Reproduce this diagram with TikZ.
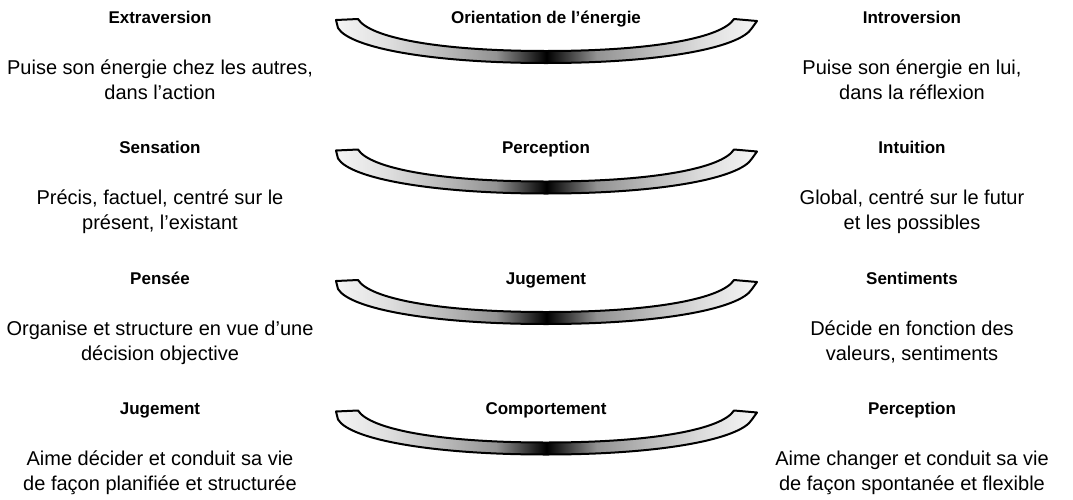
\documentclass[tikz,border=0pt]{standalone}
\usepackage{fontspec}
\setmainfont{Liberation Sans}
\pgfdeclarehorizontalshading{bandshade}{100bp}{color(0bp)=(gray!8); color(25bp)=(gray!8); color(31bp)=(gray!25); color(38bp)=(gray!55); color(44bp)=(gray!85); color(50bp)=(black); color(56bp)=(gray!85); color(62bp)=(gray!55); color(69bp)=(gray!25); color(75bp)=(gray!8); color(100bp)=(gray!8)}
\tikzset{
  title/.style={font=\fontsize{8.5}{10}\selectfont\bfseries, anchor=base},
  body/.style={font=\fontsize{10}{12.5}\selectfont, align=center, anchor=base},
  band/.style={draw=black, line width=1pt, line join=round, shading=bandshade}
}
\begin{document}
\begin{tikzpicture}[x=0.5pt, y=-0.5pt]
  \useasboundingbox (0,0) rectangle (1073,499);
  \foreach \i/\lt/\lb/\ct/\rt/\rb in {
      0/Extraversion/{Puise son énergie chez les autres,\\dans l’action}/{Orientation de l’énergie}/Introversion/{Puise son énergie en lui,\\dans la réflexion},
      1/Sensation/{Précis, factuel, centré sur le\\présent, l’existant}/Perception/Intuition/{Global, centré sur le futur\\et les possibles},
      2/Pensée/{Organise et structure en vue d’une\\décision objective}/Jugement/Sentiments/{Décide en fonction des\\valeurs, sentiments},
      3/Jugement/{Aime décider et conduit sa vie\\de façon planifiée et structurée}/Comportement/Perception/{Aime changer et conduit sa vie\\de façon spontanée et flexible}}{
    \begin{scope}[shift={(0,\i*130.5)}]
      \node[title] (lt\i) at (160,23) {\lt};
      \node[body] (lb\i) at (160,99) {\lb};
      \node[title] (ct\i) at (546,23) {\ct};
      \node[title] (rt\i) at (912,23) {\rt};
      \node[body] (rb\i) at (912,99) {\rb};
      % curved band under the axis name
      \draw[band] (336,20) -- (358,19)
        .. controls (370,38) and (440,51) .. (546,51)
        .. controls (652,51) and (722,38) .. (734,19)
        -- (757,21) -- (752,28)
        .. controls (740,48) and (660,63) .. (546,63)
        .. controls (432,63) and (350,48) .. (338,28) -- cycle;
    \end{scope}
  }
\end{tikzpicture}
\end{document}
